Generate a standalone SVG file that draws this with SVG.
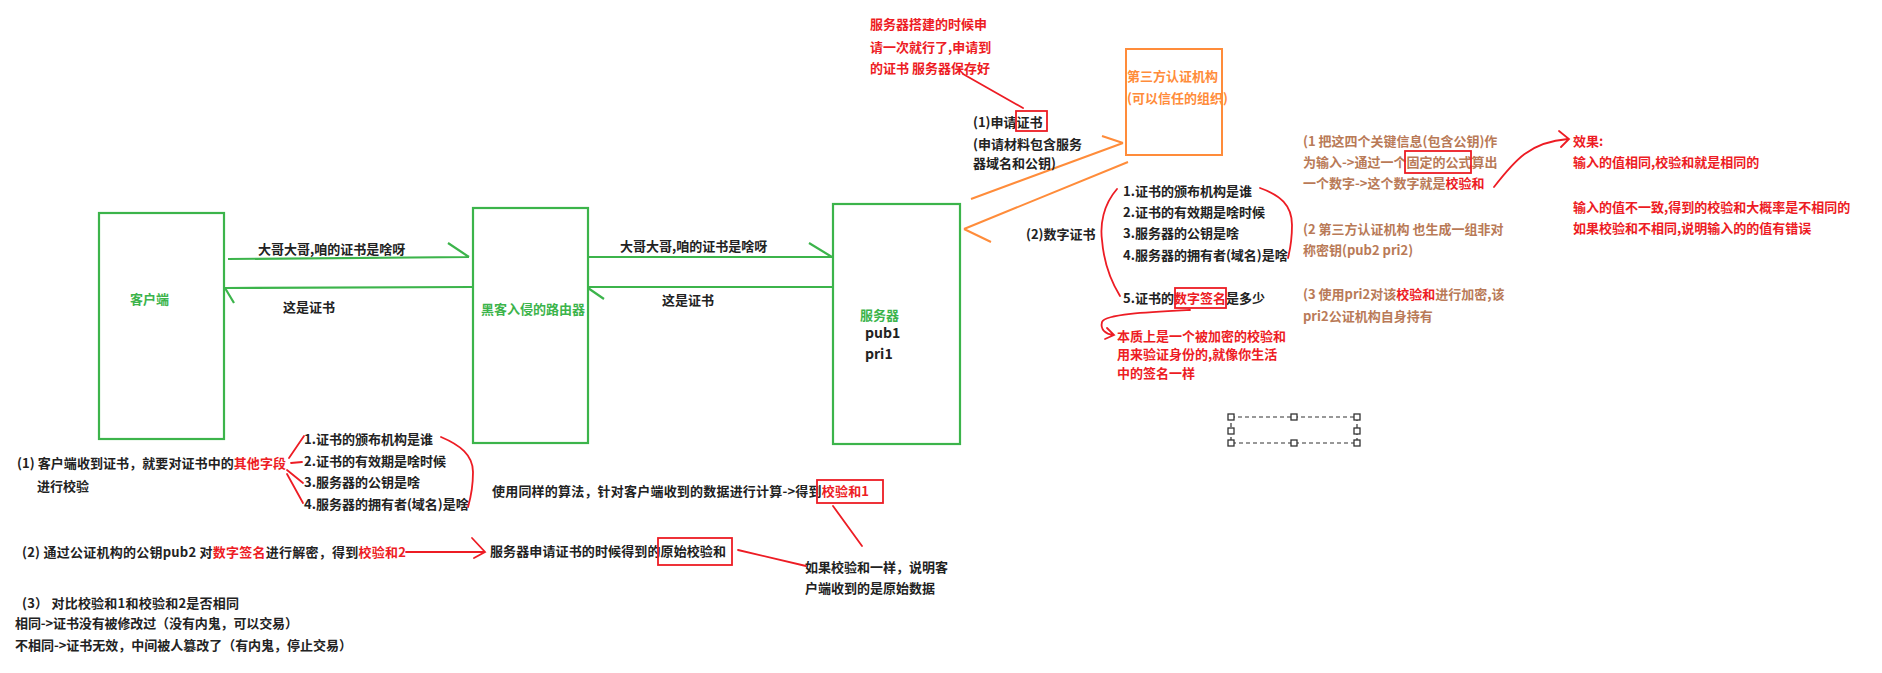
<svg xmlns="http://www.w3.org/2000/svg" width="1882" height="673" viewBox="0 0 1882 673">
<style>
text{font-family:"Noto Sans CJK SC","Noto Sans",sans-serif;font-size:13px;font-weight:700;fill:#222}
.g{fill:#3cb44b}
.o{fill:#ff8c3a}
.r{fill:#ed1c24}
.b{fill:#b97a57}
.gs{fill:none;stroke:#3cb44b;stroke-width:2.2}
.os{fill:none;stroke:#ff8c3a;stroke-width:2}
.rs{fill:none;stroke:#ed1c24;stroke-width:1.8;stroke-linecap:round}
.hd{fill:#fff;stroke:#333;stroke-width:1.3}
</style>
<rect width="1882" height="673" fill="#fff"/>

<g id="node-client">
<rect class="gs" x="99" y="213" width="125" height="226"/>
<text class="g" x="130" y="304">客户端</text>
</g>
<g id="node-router">
<rect class="gs" x="473" y="208" width="115" height="235"/>
<text class="g" x="481" y="314">黑客入侵的路由器</text>
</g>
<g id="node-server">
<rect class="gs" x="833" y="204" width="127" height="240"/>
<text class="g" x="860" y="320">服务器</text>
<text x="865" y="338" style="font-size:14px">pub1</text>
<text x="865" y="359" style="font-size:14px">pri1</text>
</g>
<g id="node-ca">
<rect class="os" x="1126" y="49" width="96" height="106"/>
<text class="o" x="1127" y="81">第三方认证机构</text>
<text class="o" x="1127" y="103">(可以信任的组织)</text>
</g>

<g id="connectors">
<path class="gs" d="M228,259 L469,257 M448,243 L469,257"/>
<text x="258" y="254">大哥大哥,咱的证书是啥呀</text>
<path class="gs" d="M473,287 L225,288 M225,288 L234,303"/>
<text x="283" y="312">这是证书</text>
<path class="gs" d="M588,257 L832,257 M809,243 L832,257"/>
<text x="620" y="251">大哥大哥,咱的证书是啥呀</text>
<path class="gs" d="M832,287 L588,287 M588,288 L604,299"/>
<text x="662" y="305">这是证书</text>
<path class="os" d="M971,199 L1123,143 M1102,136 L1123,143"/>
<path class="os" d="M1128,162 L964,229 M964,229 L991,242"/>
<text x="973" y="127">(1)申请证书</text>
<rect x="1016" y="111" width="31" height="20" fill="none" stroke="#ed1c24" stroke-width="1.8"/>
<text x="973" y="149">(申请材料包含服务</text>
<text x="973" y="168">器域名和公钥)</text>
<text x="1026" y="239">(2)数字证书</text>
</g>

<g id="note-top">
<text class="r" x="870" y="29">服务器搭建的时候申</text>
<text class="r" x="870" y="52">请一次就行了,申请到</text>
<text class="r" x="870" y="73">的证书 服务器保存好</text>
<path class="rs" d="M963,74 L1023,108"/>
</g>

<g id="cert-fields">
<text x="1123" y="196">1.证书的颁布机构是谁</text>
<text x="1123" y="217">2.证书的有效期是啥时候</text>
<text x="1123" y="238">3.服务器的公钥是啥</text>
<text x="1123" y="260">4.服务器的拥有者(域名)是啥</text>
<text x="1123" y="303">5.证书的<tspan class="r">数字签名</tspan>是多少</text>
<rect x="1175" y="288" width="51" height="20" fill="none" stroke="#ed1c24" stroke-width="1.8"/>
<path class="rs" d="M1117,189 C1103,205 1100,225 1102,240 C1104,265 1112,283 1120,296"/>
<path class="rs" d="M1260,188 C1280,195 1292,205 1292,225 C1292,240 1290,250 1288,258"/>
<path class="rs" d="M1190,310 C1150,312 1105,314 1102,322 C1100,330 1106,334 1113,335 M1107,328 L1114,335 L1105,339"/>
<text class="r" x="1117" y="341">本质上是一个被加密的校验和</text>
<text class="r" x="1117" y="359">用来验证身份的,就像你生活</text>
<text class="r" x="1117" y="378">中的签名一样</text>
</g>

<g id="note-checksum">
<text class="b" x="1303" y="146">(1 把这四个关键信息(包含公钥)作</text>
<text class="b" x="1303" y="167">为输入-&gt;通过一个固定的公式算出</text>
<text class="b" x="1303" y="188">一个数字-&gt;这个数字就是<tspan class="r">校验和</tspan></text>
<rect x="1405" y="151" width="66" height="22" fill="none" stroke="#ed1c24" stroke-width="1.8"/>
<text class="b" x="1303" y="234">(2 第三方认证机构 也生成一组非对</text>
<text class="b" x="1303" y="255">称密钥(pub2 pri2)</text>
<text class="b" x="1303" y="299">(3 使用pri2对该<tspan class="r">校验和</tspan>进行加密,该</text>
<text class="b" x="1303" y="321">pri2公证机构自身持有</text>
<path class="rs" d="M1494,187 C1515,160 1530,142 1568,139 M1559,131 L1569,139 L1561,147"/>
<text class="r" x="1573" y="146">效果:</text>
<text class="r" x="1573" y="167">输入的值相同,校验和就是相同的</text>
<text class="r" x="1573" y="212">输入的值不一致,得到的校验和大概率是不相同的</text>
<text class="r" x="1573" y="233">如果校验和不相同,说明输入的的值有错误</text>
</g>

<g id="client-check">
<text x="17" y="468" textLength="269">(1) 客户端收到证书，就要对证书中的<tspan class="r">其他字段</tspan></text>
<text x="37" y="491">进行校验</text>
<path class="rs" d="M289,458 L304,436 M291,463 L302,462 M287,470 L303,483 M287,474 L303,503"/>
<text x="304" y="444">1.证书的颁布机构是谁</text>
<text x="304" y="466">2.证书的有效期是啥时候</text>
<text x="304" y="487">3.服务器的公钥是啥</text>
<text x="304" y="509">4.服务器的拥有者(域名)是啥</text>
<path class="rs" d="M441,437 C460,445 473,455 473,472 C473,490 470,500 468,507"/>
<text x="492" y="496" textLength="377">使用同样的算法，针对客户端收到的数据进行计算-&gt;得到<tspan class="r">校验和1</tspan></text>
<rect x="817" y="480" width="66" height="23" fill="none" stroke="#ed1c24" stroke-width="1.8"/>
<path class="rs" d="M833,506 L862,546"/>
<text x="22" y="557" textLength="384">(2) 通过公证机构的公钥pub2 对<tspan class="r">数字签名</tspan>进行解密，得到<tspan class="r">校验和2</tspan></text>
<path class="rs" d="M406,552 L485,552 M472,538 L485,552 L474,558"/>
<text x="490" y="556" textLength="236">服务器申请证书的时候得到的原始校验和</text>
<rect x="658" y="538" width="74" height="27" fill="none" stroke="#ed1c24" stroke-width="1.8"/>
<path class="rs" d="M738,550 L806,566"/>
<text x="805" y="572">如果校验和一样，说明客</text>
<text x="805" y="593">户端收到的是原始数据</text>
<text x="22" y="608" textLength="217">(3） 对比校验和1和校验和2是否相同</text>
<text x="15" y="628" textLength="283">相同-&gt;证书没有被修改过（没有内鬼，可以交易）</text>
<text x="15" y="650" textLength="337">不相同-&gt;证书无效，中间被人篡改了（有内鬼，停止交易）</text>
</g>

<g id="selection">
<rect x="1231" y="417" width="126" height="26" fill="none" stroke="#333" stroke-width="1.2" stroke-dasharray="4,3"/>
<rect class="hd" x="1228" y="414" width="6" height="6"/>
<rect class="hd" x="1291" y="414" width="6" height="6"/>
<rect class="hd" x="1354" y="414" width="6" height="6"/>
<rect class="hd" x="1228" y="428" width="6" height="6"/>
<rect class="hd" x="1354" y="428" width="6" height="6"/>
<rect class="hd" x="1228" y="440" width="6" height="6"/>
<rect class="hd" x="1291" y="440" width="6" height="6"/>
<rect class="hd" x="1354" y="440" width="6" height="6"/>
</g>
</svg>
